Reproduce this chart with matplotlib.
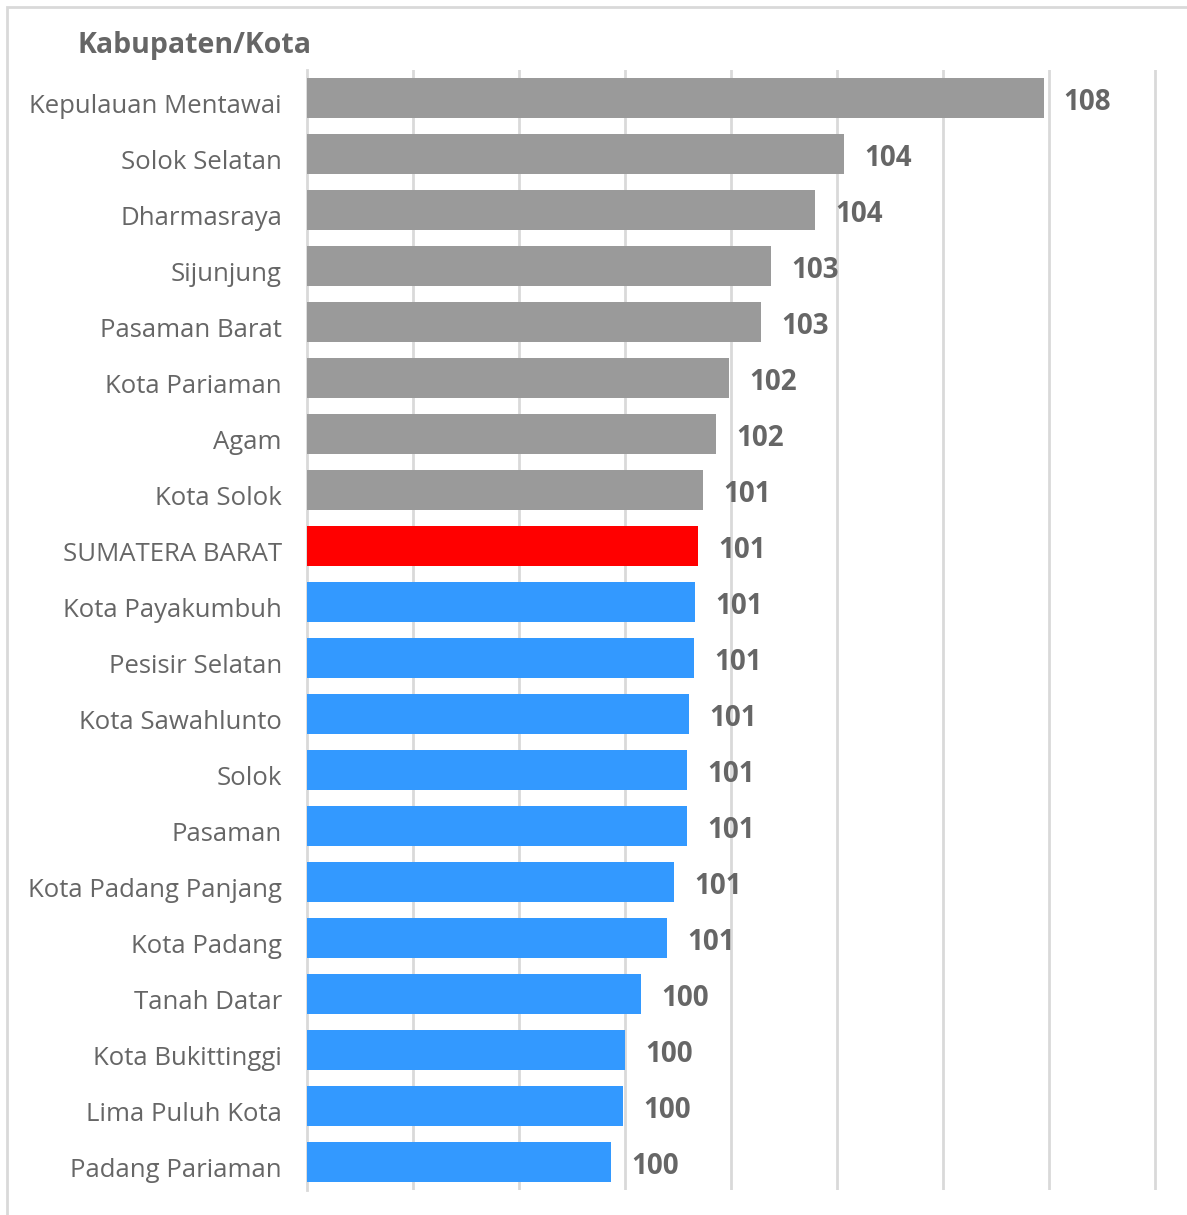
import numpy as np
import matplotlib.pyplot as plt
import matplotlib.transforms as mtransforms

plt.rcParams['font.family'] = ['Open Sans', 'DejaVu Sans']

# regions, top to bottom
regions = ['Kepulauan Mentawai', 'Solok Selatan', 'Dharmasraya', 'Sijunjung',
           'Pasaman Barat', 'Kota Pariaman', 'Agam', 'Kota Solok',
           'SUMATERA BARAT', 'Kota Payakumbuh', 'Pesisir Selatan',
           'Kota Sawahlunto', 'Solok', 'Pasaman', 'Kota Padang Panjang',
           'Kota Padang', 'Tanah Datar', 'Kota Bukittinggi',
           'Lima Puluh Kota', 'Padang Pariaman']
values = [107.89, 104.13, 103.58, 102.75, 102.57, 101.96, 101.72, 101.47,
          101.38, 101.32, 101.30, 101.21, 101.17, 101.17, 100.92, 100.79,
          100.30, 100.00, 99.96, 99.74]
province = 'SUMATERA BARAT'

grey = '#9a9a9a'
red = '#ff0000'
blue = '#3399ff'
txt = '#666666'

fig = plt.figure(figsize=(11.87, 12.15), dpi=100)
ax = fig.add_axes([307/1187, 25/1215, (1182-307)/1187, 1120/1215])

pos = np.arange(len(regions))
k = regions.index(province)
colors = [grey if i < k else (red if i == k else blue) for i in pos]
ax.barh(pos, [v - 94 for v in values], left=94, height=0.71, color=colors, zorder=3)

# value labels just right of each bar
for i, v in enumerate(values):
    ax.text(v + 0.38, i + 0.08, '%.0f' % v, va='center', ha='left', fontsize=20,
            fontweight='bold', color=txt, zorder=4)

# category names, set a little below the bar centre
lab_tr = mtransforms.blended_transform_factory(ax.transAxes, ax.transData)
for i, name in enumerate(regions):
    ax.text(-25/875, i + 0.15, name, transform=lab_tr, ha='right', va='center',
            fontsize=18.5, color=txt)

ax.set_xlim(94, 110.5)
ax.set_ylim(len(regions) - 0.5, -0.5)
ax.set_xticks(np.arange(96, 111, 2))
ax.set_xticklabels([])
ax.set_yticks([])
ax.tick_params(axis='x', length=0)
ax.grid(axis='x', color='#d9d9d9', linewidth=2, zorder=0)
for s in ['top', 'right', 'bottom']:
    ax.spines[s].set_visible(False)
ax.spines['left'].set_color('#d9d9d9')
ax.spines['left'].set_linewidth(2)

fig.text(78/1187, 1 - 46/1215, 'Kabupaten/Kota', fontsize=20.5, fontweight='bold',
         color=txt, va='center', ha='left')

# light frame round the chart
frame = plt.Rectangle((7/1187, -0.01), 1.02, 1 - 7/1215 + 0.01, transform=fig.transFigure,
                      fill=False, edgecolor='#d9d9d9', linewidth=2)
fig.add_artist(frame)

fig.savefig('out.png', dpi=100)
